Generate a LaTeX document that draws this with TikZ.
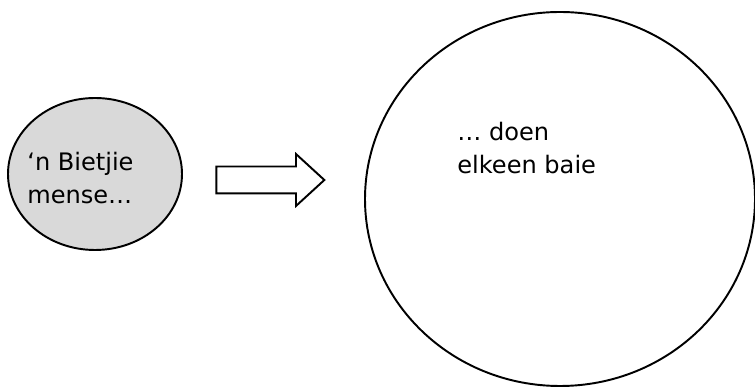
\documentclass[tikz,border=0pt]{standalone}
\usepackage{fontspec}
\setmainfont{DejaVu Sans}
\usetikzlibrary {shapes.geometric}
\usetikzlibrary {shapes.arrows}

\begin{document}
\begin{tikzpicture}[
        lyn/.style = {draw, line width=1.1pt},
        teks/.style = {inner sep=0pt, align=left, anchor=base west, font=\fontsize{13.7pt}{18.8pt}\selectfont}
    ]

            % \draw [help lines] (0,0) grid (15,7);
            \useasboundingbox (0,0) rectangle (15.1,7.74);

            \path   (1.9,4.26) node (klein) [ellipse,lyn,fill=black!15,minimum width=3.48cm,minimum height=3.04cm,inner sep=0pt] {}
                    (11.2,3.76) node (groot) [ellipse,lyn,minimum width=7.8cm,minimum height=7.48cm,inner sep=0pt] {}
                    (5.26,4.14) node (pyl) [single arrow,lyn,inner sep=0.25cm,minimum height=2.16cm,single arrow head extend=0.25cm,single arrow tip angle=85] {};

            % base = baseline of the last line
            \node (kleinteks) [teks] at (0.54,3.66) {‘n Bietjie\\mense…};
            \node (grootteks) [teks] at (9.14,4.26) {… doen\\elkeen baie};

\end{tikzpicture}
\end{document}
